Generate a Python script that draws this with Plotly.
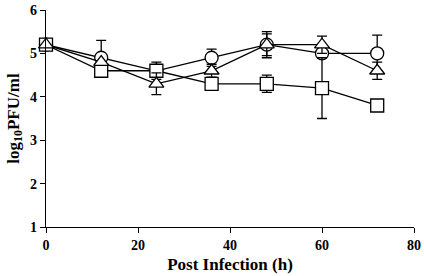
import plotly.graph_objects as go

hours = [0, 12, 24, 36, 48, 60, 72]
circle_vals = [5.2, 4.9, 4.6, 4.9, 5.2, 5.0, 5.0]
circle_err = [0.0, 0.4, 0.0, 0.2, 0.3, 0.0, 0.42]
triangle_vals = [5.2, 4.8, 4.3, 4.6, 5.2, 5.2, 4.6]
triangle_err = [0.0, 0.0, 0.25, 0.15, 0.25, 0.2, 0.2]
square_vals = [5.2, 4.6, 4.6, 4.3, 4.3, 4.2, 3.8]
square_err = [0.0, 0.0, 0.2, 0.0, 0.2, 0.7, 0.0]
x_ticks = [0, 20, 40, 60, 80]
y_ticks = [1, 2, 3, 4, 5, 6]

fig = go.Figure()
series = [
    (circle_vals, circle_err, "circle"),
    (square_vals, square_err, "square"),
    (triangle_vals, triangle_err, "triangle-up"),
]
for vals, err, sym in series:
    fig.add_trace(go.Scatter(
        x=hours, y=vals, mode="lines+markers",
        line=dict(color="black", width=1.3),
        marker=dict(symbol=sym, size=13, color="white", line=dict(color="black", width=1.3)),
        error_y=dict(type="data", array=err, color="black", thickness=1.3, width=5),
        cliponaxis=False, showlegend=False,
    ))

fam = "Liberation Serif, Times New Roman, serif"
fig.update_layout(
    width=424, height=276,
    margin=dict(l=46, r=10, t=10, b=49, autoexpand=False),
    plot_bgcolor="white", paper_bgcolor="white",
    font=dict(family=fam, color="black"),
)
fig.update_xaxes(
    range=[0, 80], tickvals=x_ticks, ticktext=[f"<b>{t}</b>" for t in x_ticks],
    showline=True, linecolor="black", linewidth=1.3,
    ticks="outside", ticklen=5, tickcolor="black", tickwidth=1.3,
    showgrid=False, zeroline=False, automargin=False,
    tickfont=dict(size=14, family=fam, color="black"),
    title=dict(text="<b>Post Infection (h)</b>", font=dict(size=17, family=fam), standoff=6),
)
fig.update_yaxes(
    range=[1, 6], tickvals=y_ticks, ticktext=[f"<b>{t}</b>" for t in y_ticks],
    showline=True, linecolor="black", linewidth=1.3,
    ticks="outside", ticklen=5, tickcolor="black", tickwidth=1.3,
    showgrid=False, zeroline=False, automargin=False,
    tickfont=dict(size=14, family=fam, color="black"),
    title=dict(text="<b>log<sub>10</sub>PFU/ml</b>", font=dict(size=17, family=fam), standoff=6),
)
fig.write_html("out.html", config={"displayModeBar": False},
               post_script="document.body.style.margin='0';")
